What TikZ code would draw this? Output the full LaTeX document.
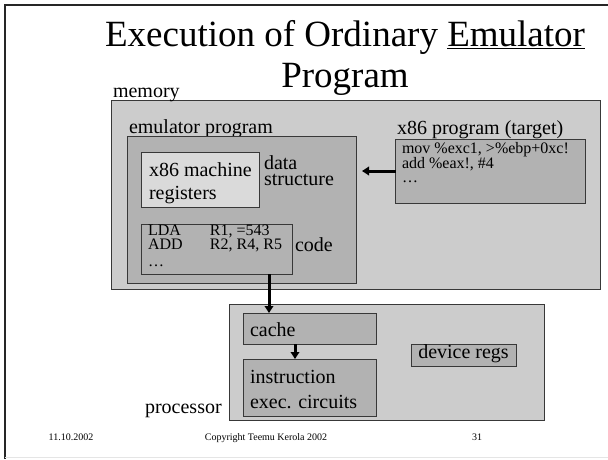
\documentclass[tikz,border=0pt]{standalone}
\usepackage{fontspec}
\setmainfont{Liberation Serif}
\usetikzlibrary{arrows.meta}
\definecolor{lightfill}{HTML}{CCCCCC}
\definecolor{midfill}{HTML}{B2B2B2}
\definecolor{palefill}{HTML}{DADADA}
\definecolor{boxline}{HTML}{383838}
\begin{document}
\begin{tikzpicture}[x=1pt,y=-1pt,
  box/.style={draw=boxline, line width=0.9pt, inner sep=0pt, outer sep=0pt, anchor=north west},
  lbl/.style={inner sep=0pt, outer sep=0pt, anchor=base west, font=\fontsize{20}{23}\selectfont, align=left},
  codetxt/.style={inner sep=0pt, outer sep=0pt, anchor=base west, font=\fontsize{16}{14}\selectfont, align=left},
  foot/.style={inner sep=0pt, anchor=base, font=\fontsize{10}{12}\selectfont},
  arr/.style={line width=3pt, -{Triangle[length=7pt,width=8.5pt]}}
]
\useasboundingbox (0,0) rectangle (608,459);
% slide frame
\draw[line width=1.6pt, black!85] (5,459) -- (5,5) -- (608,5);
\draw[line width=0.6pt, black!10] (5,457.6) -- (608,457.6);

% title (anchor base = baseline of the last line)
\node[inner sep=0pt, anchor=base, align=center, font=\fontsize{37}{40.5}\selectfont] (title) at (345,87)
  {Execution of Ordinary \underline{Emulator}\\Program};

% memory
\node[box, fill=lightfill, minimum width=488.5pt, minimum height=188.5pt] (mem) at (111.5,100.5) {};
\node[lbl] (memlbl) at (113,97) {memory};
\node[lbl] (emulbl) at (129,133.3) {emulator program};
\node[box, fill=midfill, minimum width=228.5pt, minimum height=147pt] (emu) at (127.5,136) {};
\node[box, fill=palefill, minimum width=117.5pt, minimum height=55.5pt] (regs) at (141.5,152) {};
\node[lbl] (regslbl) at (149,199) {x86 machine\\registers};
\node[lbl, font=\fontsize{20}{16.7}\selectfont] (dslbl) at (264,185.7) {data\\structure};
\node[box, fill=midfill, minimum width=150.5pt, minimum height=50pt] (code) at (141.5,224) {};
\node[codetxt, font=\fontsize{16}{10.7}\selectfont] (codetext) at (148,266.7)
  {\makebox[62pt][l]{LDA}R1, =543\\\makebox[62pt][l]{ADD}R2, R4, R5\\[6.2pt]\ldots};
\node[lbl] (codelbl) at (295,251) {code};

\node[lbl] (x86lbl) at (397,134) {x86 program (target)};
\node[box, fill=midfill, minimum width=190pt, minimum height=64pt] (x86) at (395.5,139) {};
\node[codetxt] (x86text) at (402,182.7) {mov \%exc1, >\%ebp+0xc!\\add \%eax!, \#4\\\ldots};

% processor
\node[box, fill=lightfill, minimum width=315pt, minimum height=116.5pt] (proc) at (229,304) {};
\node[lbl, anchor=base east] (proclbl) at (221.7,413.3) {processor};
\node[box, fill=midfill, minimum width=133pt, minimum height=31pt] (cache) at (243,313) {};
\node[lbl] (cachelbl) at (250,336.7) {cache};
\node[box, fill=midfill, minimum width=133pt, minimum height=57pt] (instr) at (243,359) {};
\node[lbl, font=\fontsize{20}{25}\selectfont] (instrlbl) at (250,408.3) {instruction\\exec. circuits};
\node[box, fill=midfill, minimum width=104.5pt, minimum height=22pt] (dev) at (411.5,344) {};
\node[lbl, anchor=base] (devlbl) at (463.5,358.5) {device regs};

% arrows
\coordinate (dsend) at (362,171);
\coordinate (c1) at (269,0);
\coordinate (c2) at (295,0);
\draw[arr] (x86.west) -- (x86.west -| dsend);
\draw[arr] (code.south -| c1) -- (cache.north -| c1);
\draw[arr] (cache.south -| c2) -- (instr.north -| c2);

% footer
\node[foot] (date) at (71,440) {11.10.2002};
\node[foot] (copy) at (266,440) {Copyright Teemu Kerola 2002};
\node[foot] (page) at (477,440) {31};
\end{tikzpicture}
\end{document}
